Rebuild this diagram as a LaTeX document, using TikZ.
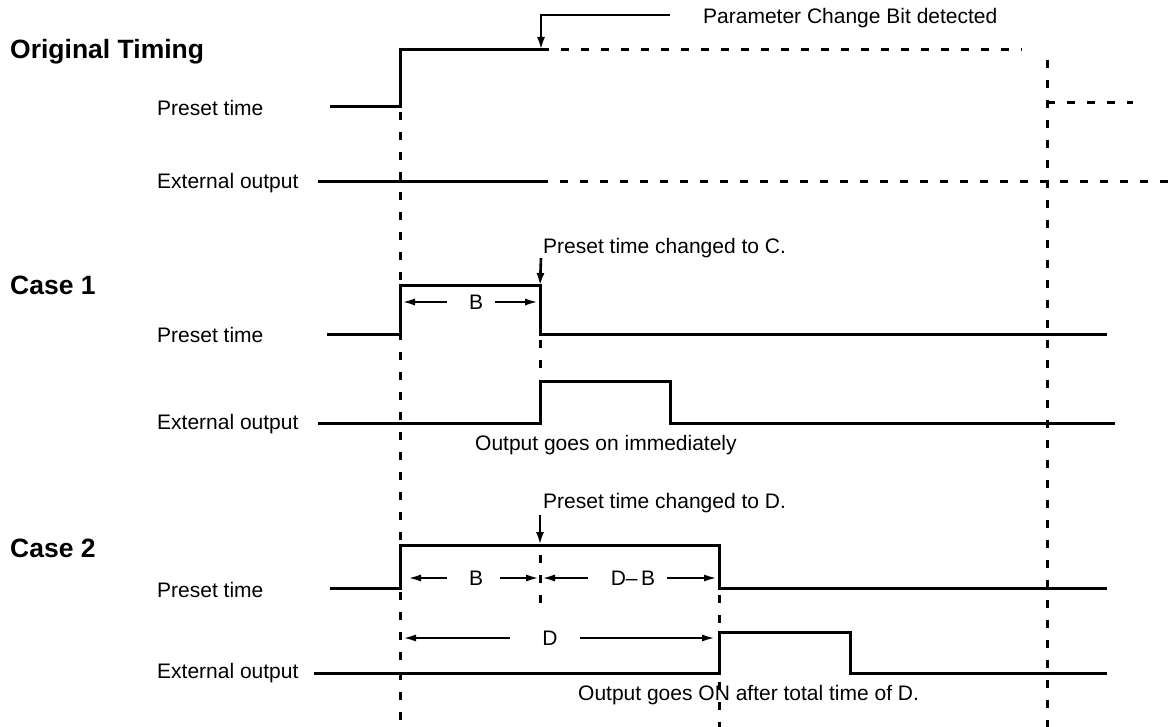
\documentclass[tikz,border=0pt]{standalone}
\usepackage{fontspec}
\setmainfont{Liberation Sans}
\usetikzlibrary{arrows.meta}
\begin{document}
\begin{tikzpicture}[x=1pt,y=-1pt,
  sig/.style={line width=3pt,line join=miter},
  fut/.style={line width=3pt,dash pattern=on 8pt off 12pt},
  guide/.style={line width=3pt,dash pattern=on 8pt off 12pt},
  lbl/.style={font=\fontsize{21}{25}\selectfont,inner sep=0pt},
  title/.style={font=\fontsize{26.5}{30}\selectfont\bfseries,inner sep=0pt,anchor=west},
  dimlbl/.style={font=\fontsize{21}{25}\selectfont,inner sep=0pt},
  dimarr/.style={line width=2.6pt,-{Latex[length=14pt,width=7pt]}},
  evtarrow/.style={line width=2.6pt,-{Latex[length=13pt,width=8pt]}},
]
\useasboundingbox (0,0) rectangle (1176,727);

% ---------------- Original timing ----------------
\node[title] (t0) at (10,52) {Original Timing};
\node[lbl,anchor=west] (p0) at (157,108) {Preset time};
\node[lbl,anchor=west] (e0) at (157,183) {External output};

\coordinate (chg) at (541,50);
\draw[sig] (330,107) -- (400,107) -- (400,50) -- (chg);
\draw[fut] (chg) -- (1022,50);
\draw[sig] (318,182) -- (540,182);
\draw[fut] (540,182) -- (1176,182);
\draw[fut] (1047,103) -- (1133,103);

\node[lbl,anchor=west] (pcb) at (703,18) {Parameter Change Bit detected};
\coordinate (pcbend) at (670,15);
\draw[evtarrow] (pcbend) -- (541,15) -- (chg);

% time-zero and end guides
\draw[guide] (400,112) -- (400,727);
\draw[guide] (1047,60) -- (1047,727);

% ---------------- Case 1 ----------------
\node[title] (t1) at (10,285) {Case 1};
\node[lbl,anchor=west] (p1) at (157,335) {Preset time};
\node[lbl,anchor=west] (e1) at (157,424) {External output};

\coordinate (c1) at (540,286);
\draw[sig] (327,335) -- (400,335) -- (400,286) -- (c1) -- (540,335) -- (1107,335);
\draw[sig] (318,423) -- (540,423) -- (540,382) -- (670,382) -- (670,423) -- (1115,423);
\draw[guide] (540,340) -- (540,380);

\node[lbl,anchor=west] (n1) at (543,248) {Preset time changed to C.};
\draw[evtarrow] (541,258) -- (c1);

\node[dimlbl] (b1) at (476,302) {B};
\coordinate (b1l) at (401,302);
\coordinate (b1r) at (539,302);
\draw[dimarr] ([xshift=-29pt]b1.center) -- (b1l);
\draw[dimarr] ([xshift=19pt]b1.center) -- (b1r);

\node[lbl,anchor=west] (o1) at (475,445) {Output goes on immediately};

% ---------------- Case 2 ----------------
\node[title] (t2) at (10,548) {Case 2};
\node[lbl,anchor=west] (p2) at (157,590) {Preset time};
\node[lbl,anchor=west] (e2) at (157,673) {External output};

\coordinate (c2) at (540,545);
\draw[sig] (330,588) -- (400,588) -- (400,545) -- (719,545) -- (719,588) -- (1107,588);
\draw[sig] (314,673) -- (719,673) -- (719,632) -- (850,632) -- (850,673) -- (1107,673);
\draw[guide] (540,555) -- (540,605);
\draw[guide] (719,595) -- (719,630);
\draw[guide] (719,682) -- (719,727);

\node[lbl,anchor=west] (n2) at (543,503) {Preset time changed to D.};
\draw[evtarrow] (540,515) -- (c2);

\node[dimlbl] (b2) at (476,578) {B};
\draw[dimarr] ([xshift=-29pt]b2.center) -- (407,578);
\draw[dimarr] ([xshift=24pt]b2.center) -- (540,578);
\node[dimlbl] (db) at (633,578) {D–{\,}B};
\draw[dimarr] ([xshift=-45pt]db.center) -- (541,578);
\draw[dimarr] ([xshift=34pt]db.center) -- (718,578);

\node[dimlbl] (d2) at (550,638) {D};
\draw[dimarr] ([xshift=-40pt]d2.center) -- (402,638);
\draw[dimarr] ([xshift=30pt]d2.center) -- (716,638);

\node[lbl,anchor=west] (o2) at (578,695) {Output goes ON after total time of D.};
\end{tikzpicture}
\end{document}
